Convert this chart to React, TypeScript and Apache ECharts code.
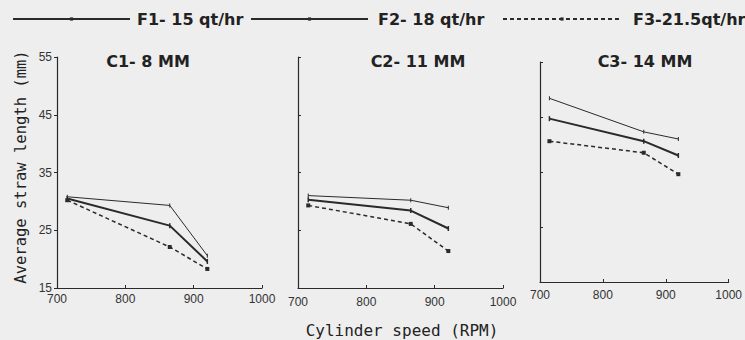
import React, { useEffect, useRef } from "react";
import * as echarts from "echarts";

const rpm = [715, 865, 920];
const seriesNames = ["F1- 15 qt/hr", "F2- 18 qt/hr", "F3-21.5qt/hr"];
const c1F1 = [30.8, 29.3, 20.6];
const c1F2 = [30.5, 25.8, 19.6];
const c1F3 = [30.2, 22.1, 18.3];
const c2F1 = [31.0, 30.2, 28.9];
const c2F2 = [30.3, 28.4, 25.3];
const c2F3 = [29.3, 26.1, 21.4];
const c3F1 = [48.4, 42.3, 41.0];
const c3F2 = [44.7, 40.6, 38.0];
const c3F3 = [40.6, 38.5, 34.6];
const panelTitles = ["C1- 8 MM", "C2- 11 MM", "C3- 14 MM"];
const xMin = 700;
const xMax = 1000;
const xStep = 100;
const yMin = 15;
const yMax = 55;
const yStep = 10;
const xAxisTitle = "Cylinder speed (RPM)";
const yAxisTitle = "Average straw length (mm)";

const INK = "#2a2a2a";

export default function App() {
  const ref = useRef<HTMLDivElement>(null);
  useEffect(() => {
    if (!ref.current) return;
    const chart = echarts.init(ref.current, null, { renderer: "svg" });
    const panels = [
      [c1F1, c1F2, c1F3],
      [c2F1, c2F2, c2F3],
      [c3F1, c3F2, c3F3],
    ];
    const grids = [
      { left: 57, top: 57, width: 205, height: 231 },
      { left: 298, top: 57, width: 205, height: 231 },
      { left: 540, top: 62, width: 192, height: 220 },
    ];
    const labelMargins = [5, 8, 7];
    const styles = [
      { lineStyle: { width: 1, color: INK, type: "solid" }, symbol: "rect", symbolSize: [1, 4] },
      { lineStyle: { width: 2, color: INK, type: "solid" }, symbol: "rect", symbolSize: [1.5, 5] },
      { lineStyle: { width: 1.5, color: INK, type: [4, 3] }, symbol: "rect", symbolSize: 4 },
    ];
    const series: any[] = [];
    panels.forEach((p, gi) => {
      p.forEach((vals, si) => {
        series.push({
          name: seriesNames[si],
          type: "line",
          xAxisIndex: gi,
          yAxisIndex: gi,
          data: rpm.map((x, i) => [x, vals[i]]),
          symbol: styles[si].symbol,
          symbolSize: styles[si].symbolSize,
          showSymbol: true,
          itemStyle: { color: INK },
          lineStyle: styles[si].lineStyle,
          z: 3 - si,
        });
      });
    });
    const legendPos = [
      { left: 12, w: 117, pad: 2 },
      { left: 250, w: 117, pad: 5 },
      { left: 502, w: 118, pad: 7 },
    ];
    const titleX = [148, 418, 645];
    chart.setOption({
      animation: false,
      backgroundColor: "#eeeeee",
      legend: seriesNames.map((n, i) => ({
        data: [n],
        left: legendPos[i].left,
        top: 11,
        itemWidth: legendPos[i].w,
        itemHeight: 4,
        selectedMode: false,
        padding: 0,
        textStyle: {
          fontFamily: "DejaVu Sans",
          fontWeight: "bold",
          fontSize: 16,
          color: "#222",
          padding: [0, 0, 0, legendPos[i].pad],
        },
      })),
      grid: grids,
      xAxis: grids.map((g, i) => ({
        type: "value",
        gridIndex: i,
        min: xMin,
        max: xMax,
        interval: xStep,
        axisLine: { show: true, lineStyle: { color: INK, width: 1.2 } },
        axisTick: { show: true, inside: true, length: 3, lineStyle: { color: INK } },
        splitLine: { show: false },
        axisLabel: {
          margin: labelMargins[i],
          fontFamily: "Liberation Sans",
          fontSize: 12,
          color: "#333",
          formatter: (v: number) => String(v),
        },
      })),
      yAxis: grids.map((g, i) => ({
        type: "value",
        gridIndex: i,
        min: yMin,
        max: yMax,
        interval: yStep,
        axisLine: { show: true, lineStyle: { color: INK, width: 1.2 } },
        axisTick: { show: true, inside: i > 0, length: 3, lineStyle: { color: INK } },
        splitLine: { show: false },
        axisLabel: {
          show: i === 0,
          margin: 5,
          fontFamily: "Liberation Sans",
          fontSize: 12,
          color: "#333",
          formatter: (v: number) => String(v),
        },
      })),
      graphic: [
        ...panelTitles.map((t, i) => ({
          type: "text",
          x: titleX[i],
          y: 61,
          style: {
            text: t,
            fontFamily: "DejaVu Sans",
            fontWeight: "bold",
            fontSize: 16,
            fill: "#222",
            textAlign: "center",
            textVerticalAlign: "middle",
          },
        })),
        {
          type: "text",
          x: 402,
          y: 330,
          style: {
            text: xAxisTitle,
            fontFamily: "DejaVu Sans Mono",
            fontSize: 16,
            fill: "#222",
            textAlign: "center",
            textVerticalAlign: "middle",
          },
        },
        {
          type: "text",
          x: 21,
          y: 167,
          rotation: Math.PI / 2,
          style: {
            text: yAxisTitle,
            fontFamily: "DejaVu Sans Mono",
            fontSize: 15.5,
            fill: "#222",
            textAlign: "center",
            textVerticalAlign: "middle",
          },
        },
      ],
      series,
    });
    return () => chart.dispose();
  }, []);
  return (
    <div
      ref={ref}
      style={{ position: "fixed", left: 0, top: 0, width: 745, height: 340 }}
    />
  );
}
